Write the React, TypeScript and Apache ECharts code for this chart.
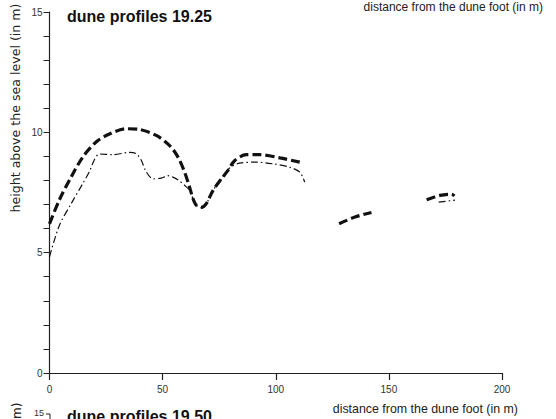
import React, { useEffect, useRef } from "react";
import * as echarts from "echarts";

// x: distance from the dune foot (m), y: height above sea level (m)
const xTicks = [0, 50, 100, 150, 200];
const yLabelled = [0, 5, 10, 15];

// dashed profile (thick)
const dashedSeg1: [number, number][] = [
  [0, 6.2], [4.4, 7.2], [9.6, 8.15], [14.7, 8.97], [20.6, 9.6], [26.5, 9.93],
  [33.9, 10.15], [39.8, 10.12], [47.2, 9.87], [53.1, 9.45], [56.8, 8.97],
  [59.7, 8.35], [61.9, 7.73], [63.4, 7.25], [64.9, 6.97], [67.1, 6.88],
  [69.3, 7.04], [72.3, 7.59], [76, 8.07], [78.9, 8.42], [81.9, 8.83],
  [87, 9.07], [92.9, 9.07], [101.8, 8.94], [110.6, 8.76],
];
const dashedSeg2: [number, number][] = [[128, 6.2], [135, 6.48], [142.3, 6.67]];
const dashedSeg3: [number, number][] = [[166.7, 7.2], [172.6, 7.38], [177.7, 7.43], [179, 7.36]];

// dash-dot profile (thin)
const dashDotSeg1: [number, number][] = [
  [0, 4.83], [4.4, 6.14], [9.6, 7.04], [14.7, 7.87], [17.8, 8.4], [19.8, 8.85],
  [22, 9.1], [28, 9.07], [35.4, 9.17], [38.4, 9.11], [40.6, 8.83],
  [42.8, 8.35], [45.7, 8.07], [49.4, 8.1], [52.3, 8.2], [55, 8.12],
  [57.5, 7.98], [59.7, 7.8], [61.9, 7.59], [63.4, 7.25], [64.9, 6.97],
  [67.1, 6.88], [69.3, 7.04], [72.3, 7.59], [76, 8.07], [79.6, 8.52],
  [84, 8.72], [91.4, 8.76], [98.8, 8.69], [106.2, 8.55], [110.6, 8.35],
  [112.8, 7.93],
];
const dashDotSeg2: [number, number][] = [[172, 7.1], [179.2, 7.18]];

const FONT = "'Liberation Sans', Arial, sans-serif";

export default function App() {
  const ref = useRef<HTMLDivElement>(null);
  useEffect(() => {
    document.body.style.margin = "0";
    if (!ref.current) return;
    const chart = echarts.init(ref.current, null, { renderer: "svg" });
    const dashedStyle = { color: "#111", width: 3.2, type: [9, 4] as number[] };
    const dashDotStyle = { color: "#111", width: 1.2, type: [7, 3, 1.5, 3] as number[] };
    const mk = (data: [number, number][], ls: any) => ({
      type: "line",
      data,
      smooth: 0.3,
      symbol: "none",
      lineStyle: ls,
      silent: true,
    });
    chart.setOption({
      animation: false,
      backgroundColor: "#fff",
      grid: { left: 49.5, right: 54, top: 12, bottom: 46 },
      xAxis: {
        type: "value",
        min: 0,
        max: 200,
        interval: 50,
        splitLine: { show: false },
        axisLine: { show: true, lineStyle: { color: "#222", width: 1.2 } },
        axisTick: { show: true, length: 7, lineStyle: { color: "#222", width: 1.2 } },
        axisLabel: {
          margin: 11,
          color: "#333",
          fontSize: 10,
          fontFamily: FONT,
          formatter: (v: number) => (xTicks.includes(v) ? String(v) : ""),
        },
      },
      yAxis: {
        type: "value",
        min: 0,
        max: 15,
        interval: 1,
        splitLine: { show: false },
        axisLine: { show: true, lineStyle: { color: "#222", width: 1.2 } },
        axisTick: { show: true, length: 6, lineStyle: { color: "#222", width: 1 } },
        axisLabel: {
          margin: 7,
          color: "#333",
          fontSize: 10,
          fontFamily: FONT,
          formatter: (v: number) => (yLabelled.includes(v) ? String(v) : ""),
        },
      },
      graphic: [
        {
          type: "text",
          left: 67,
          top: 8,
          style: { text: "dune profiles 19.25", font: `bold 16px ${FONT}`, fill: "#111" },
        },
        {
          type: "text",
          x: 543,
          y: 7,
          style: {
            text: "distance from the dune foot (in m)",
            font: `12px ${FONT}`,
            fill: "#222",
            align: "right",
            verticalAlign: "middle",
          },
        },
        {
          type: "text",
          x: 518,
          y: 409,
          style: {
            text: "distance from the dune foot (in m)",
            font: `12.4px ${FONT}`,
            fill: "#222",
            align: "right",
            verticalAlign: "middle",
          },
        },
        {
          type: "text",
          x: 15,
          y: 108,
          rotation: Math.PI / 2,
          style: {
            text: "height above the sea level (in m)",
            font: `12.6px 'DejaVu Sans', sans-serif`,
            fill: "#222",
            align: "center",
            verticalAlign: "middle",
          },
        },
        {
          type: "text",
          x: 67,
          y: 416,
          style: {
            text: "dune profiles 19.50",
            font: `bold 16px ${FONT}`,
            fill: "#111",
            verticalAlign: "middle",
          },
        },
        {
          type: "text",
          x: 44,
          y: 413,
          style: {
            text: "15",
            font: `9px ${FONT}`,
            fill: "#333",
            align: "right",
            verticalAlign: "middle",
          },
        },
        {
          type: "text",
          x: 17,
          y: 419,
          rotation: Math.PI / 2,
          style: {
            text: "m)",
            font: `12px 'DejaVu Sans', sans-serif`,
            fill: "#222",
            align: "left",
            verticalAlign: "middle",
          },
        },
        {
          type: "line",
          shape: { x1: 46, y1: 414, x2: 50, y2: 414 },
          style: { stroke: "#222", lineWidth: 1 },
        },
        {
          type: "line",
          shape: { x1: 50, y1: 414, x2: 50, y2: 419 },
          style: { stroke: "#222", lineWidth: 1 },
        },
      ],
      series: [
        mk(dashedSeg1, dashedStyle),
        mk(dashedSeg2, dashedStyle),
        mk(dashedSeg3, dashedStyle),
        mk(dashDotSeg1, dashDotStyle),
        mk(dashDotSeg2, dashDotStyle),
      ],
    });
    return () => chart.dispose();
  }, []);
  return <div ref={ref} style={{ width: 556, height: 419 }} />;
}
